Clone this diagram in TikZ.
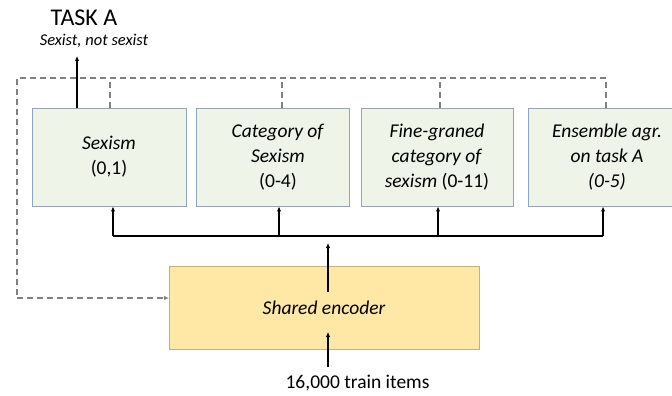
\documentclass[tikz,border=0pt]{standalone}
\usepackage{fontspec}
\setmainfont{Carlito}
\usetikzlibrary{arrows.meta}
\definecolor{boxfill}{HTML}{EEF4E8}
\definecolor{boxline}{HTML}{8EA4C2}
\definecolor{encfill}{HTML}{FFE7A6}
\definecolor{encline}{HTML}{BCAF8C}
\definecolor{dashgray}{HTML}{808080}
\tikzset{
  taskbox/.style={draw=boxline, fill=boxfill, line width=0.9pt, minimum height=98pt, inner sep=0pt,
     align=center, font=\fontsize{19.5}{25}\selectfont},
  encbox/.style={draw=encline, fill=encfill, line width=0.9pt, minimum width=310pt, minimum height=83pt, inner sep=0pt,
     font=\fontsize{19.5}{25}\selectfont\itshape},
  solidarrow/.style={line width=1.8pt, -{Latex[length=5pt,width=4.5pt]}},
  busline/.style={line width=1.8pt},
  dashline/.style={dashgray, line width=1.5pt, dash pattern=on 6pt off 4pt},
  dasharrow/.style={dashline, -{Latex[length=5pt,width=4.5pt]}},
  plaintext/.style={inner sep=0pt}
}
\begin{document}
\begin{tikzpicture}[x=1pt,y=-1pt]
\useasboundingbox (0,0) rectangle (672,396);
% task boxes
\node[taskbox, minimum width=154pt] (b1) at (109,157) {\textit{Sexism}\\(0,1)};
\node[taskbox, minimum width=153pt] (b2) at (272.5,157) {\hspace*{11pt}\textit{Category of}\\\hspace*{11pt}\textit{Sexism}\\\hspace*{11pt}(0-4)};
\node[taskbox, minimum width=152pt] (b3) at (437,157) {\textit{Fine-graned}\\\textit{category of}\\\textit{sexism} (0-11)};
\node[taskbox, minimum width=158pt] (b4) at (607,157) {\textit{Ensemble agr.}\\\textit{on task A}\\\textit{(0-5)}};
% encoder
\node[encbox] (enc) at (324,307.5) {Shared encoder};
% texts
\node[plaintext, font=\fontsize{24}{28}\selectfont] (taska) at (84,18) {TASK A};
\node[plaintext, font=\fontsize{16.5}{20}\selectfont\itshape] (labels) at (94,41) {Sexist, not sexist};
\node[plaintext, font=\fontsize{19.5}{24}\selectfont] (items) at (357.5,383) {16,000 train items};
% coordinates
\coordinate (taskend) at (77,56);
\coordinate (busL) at (113,236);
\coordinate (bus2) at (279,236);
\coordinate (bus3) at (438,236);
\coordinate (busR) at (603,236);
\coordinate (encout) at (328,292);
\coordinate (busC) at (328,243);
\coordinate (itemstop) at (328,367);
\coordinate (encin) at (328,332);
\coordinate (dTL) at (17,78);
\coordinate (dTR) at (606,78);
\coordinate (dBL) at (17,298);
\coordinate (dEnc) at (169,298);
% Task A output arrow
\draw[solidarrow] (b1.north -| taskend) -- (taskend);
% bus
\draw[busline] (busL) -- (busR);
\draw[solidarrow] (busL) -- (b1.south -| busL);
\draw[solidarrow] (bus2) -- (b2.south -| bus2);
\draw[solidarrow] (bus3) -- (b3.south -| bus3);
\draw[solidarrow] (busR) -- (b4.south -| busR);
\draw[solidarrow] (encout) -- (busC);
\draw[solidarrow] (itemstop) -- (encin);
% dashed feedback
\draw[dashline] (b4.north -| dTR) -- (dTR) -- (dTL) -- (dBL);
\draw[dasharrow] (dBL) -- (dEnc);
\draw[dashline] (b1.north -| 110,0) -- (110,78);
\draw[dashline] (b2.north -| 282,0) -- (282,78);
\draw[dashline] (b3.north -| 440,0) -- (440,78);
\end{tikzpicture}
\end{document}
